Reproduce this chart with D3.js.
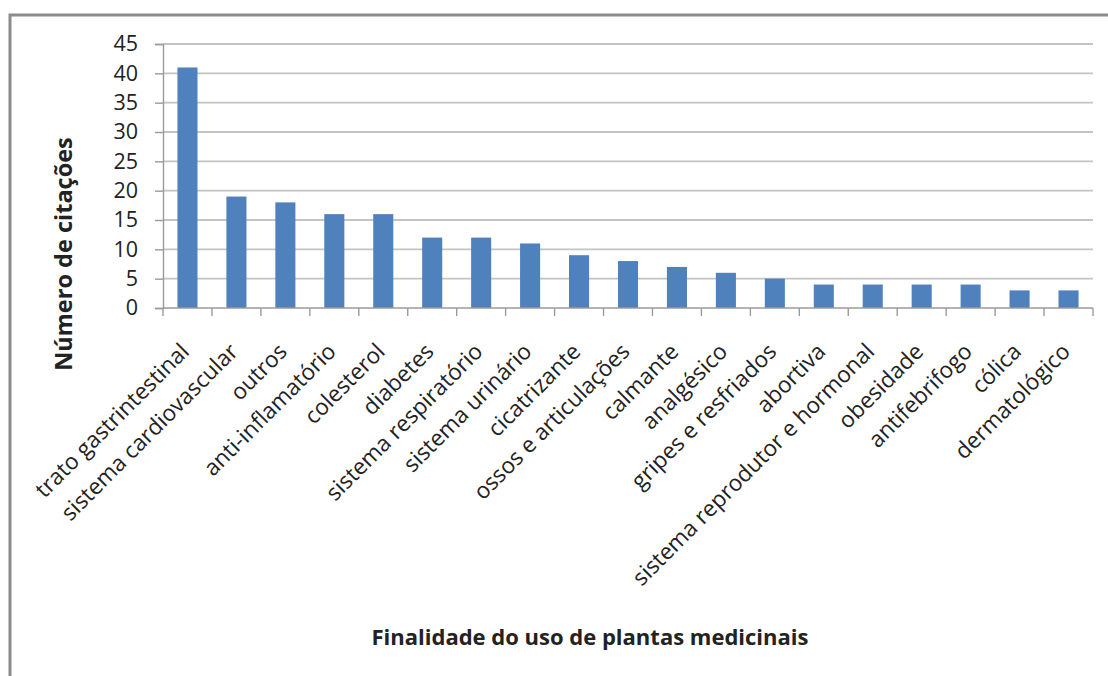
<!DOCTYPE html>
<html>
<head>
<meta charset="utf-8">
<script src="https://cdn.jsdelivr.net/npm/d3@7"></script>
<style>
  html, body { margin: 0; padding: 0; background: #fff; }
  svg { display: block; }
  text { font-family: "Open Sans", Lato, sans-serif; fill: #222; }
</style>
</head>
<body>
<svg id="chart" width="1108" height="676"></svg>
<script>
const categories = [
  "trato gastrintestinal", "sistema cardiovascular", "outros", "anti-inflamatório",
  "colesterol", "diabetes", "sistema respiratório", "sistema urinário",
  "cicatrizante", "ossos e articulações", "calmante", "analgésico",
  "gripes e resfriados", "abortiva", "sistema reprodutor e hormonal", "obesidade",
  "antifebrifogo", "cólica", "dermatológico"
];
const values = [41, 19, 18, 16, 16, 12, 12, 11, 9, 8, 7, 6, 5, 4, 4, 4, 4, 3, 3];
const yTicks = [0, 5, 10, 15, 20, 25, 30, 35, 40, 45];
const yTitle = "Número de citações";
const xTitle = "Finalidade do uso de plantas medicinais";

const svg = d3.select("#chart");
const W = 1108, H = 676;

// outer frame
svg.append("rect")
  .attr("x", 10).attr("y", 15)
  .attr("width", W + 10).attr("height", H + 10)
  .attr("fill", "#fff").attr("stroke", "#8c8c8c").attr("stroke-width", 3);

const plot = { left: 163, right: 1093, top: 44, bottom: 308 };

const x = d3.scaleBand()
  .domain(categories)
  .range([plot.left, plot.right])
  .paddingInner(0.59)
  .paddingOuter(0.295);

const y = d3.scaleLinear().domain([0, 45]).range([plot.bottom, plot.top]);

// gridlines
svg.append("g").selectAll("line")
  .data(yTicks.filter(d => d > 0))
  .join("line")
  .attr("x1", plot.left).attr("x2", plot.right)
  .attr("y1", d => y(d)).attr("y2", d => y(d))
  .attr("stroke", "#c4c4c4").attr("stroke-width", 1.8);

// y axis
const yAxis = d3.axisLeft(y).tickValues(yTicks).tickSize(8).tickPadding(17);
const gy = svg.append("g").attr("transform", `translate(${plot.left},0)`).call(yAxis);
gy.select(".domain").attr("stroke", "#9a9a9a").attr("stroke-width", 1.4);
gy.selectAll(".tick line").attr("stroke", "#9a9a9a").attr("stroke-width", 1.4);
gy.selectAll(".tick text")
  .style("font-family", "'Open Sans', Lato, sans-serif")
  .style("font-size", "21.5px").attr("fill", "#333");

// bars
svg.append("g").selectAll("rect")
  .data(values)
  .join("rect")
  .attr("x", (d, i) => x(categories[i]))
  .attr("width", x.bandwidth())
  .attr("y", d => y(d))
  .attr("height", d => y(0) - y(d))
  .attr("fill", "#4f81bd");

// x axis line + ticks at band boundaries
const xAxisG = svg.append("g");
xAxisG.append("line")
  .attr("x1", plot.left).attr("x2", plot.right)
  .attr("y1", y(0)).attr("y2", y(0))
  .attr("stroke", "#9a9a9a").attr("stroke-width", 1.4);
const boundaries = d3.range(categories.length + 1).map(i => plot.left + i * x.step());
xAxisG.selectAll("line.tk")
  .data(boundaries)
  .join("line").attr("class", "tk")
  .attr("x1", d => d).attr("x2", d => d)
  .attr("y1", y(0)).attr("y2", y(0) + 8)
  .attr("stroke", "#9a9a9a").attr("stroke-width", 1.4);

// category labels
xAxisG.selectAll("text.cat")
  .data(categories)
  .join("text").attr("class", "cat")
  .attr("text-anchor", "end")
  .attr("transform", d => `translate(${x(d) + x.bandwidth() / 2 + 3},${y(0) + 45}) rotate(-45)`)
  .style("font-size", "22.5px")
  .attr("fill", "#333")
  .text(d => d);

// axis titles
svg.append("text")
  .attr("transform", `translate(72,254) rotate(-90)`)
  .attr("text-anchor", "middle")
  .style("font-size", "23.5px").style("font-weight", "bold")
  .text(yTitle);

svg.append("text")
  .attr("x", 590).attr("y", 645)
  .attr("text-anchor", "middle")
  .style("font-size", "22px").style("font-weight", "bold")
  .text(xTitle);
</script>
</body>
</html>
